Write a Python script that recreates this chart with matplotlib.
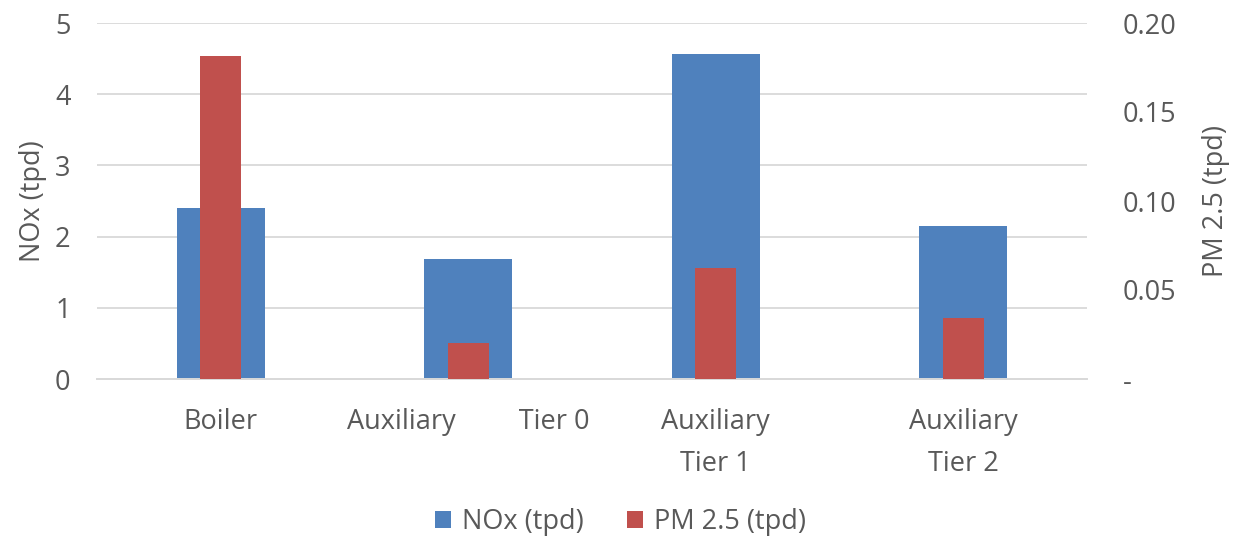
import matplotlib
matplotlib.use("Agg")
import matplotlib.pyplot as plt
import numpy as np
from matplotlib.ticker import FixedLocator

# emissions per engine type, tons per day
categories = ["Boiler", "Auxiliary         Tier 0", "Auxiliary\nTier 1", "Auxiliary\nTier 2"]
nox_tpd = [2.40, 1.69, 4.56, 2.15]
pm25_tpd = [0.1815, 0.0202, 0.0624, 0.0343]

BLUE = "#4F81BD"
RED = "#C0504D"
TEXT = "#595959"
GRID = "#D9D9D9"
FS = 19.5

plt.rcParams["font.family"] = ["Open Sans", "DejaVu Sans"]
plt.rcParams["font.size"] = FS

fig = plt.figure(figsize=(12.41, 5.41), dpi=100)
ax = fig.add_axes([97 / 1241, 1 - 379 / 541, 990 / 1241, 356 / 541])
ax2 = ax.twinx()

x = np.arange(len(categories))
ax.bar(x, nox_tpd, width=0.355, color=BLUE, zorder=2, label="NOx (tpd)")
ax2.bar(x, pm25_tpd, width=0.166, color=RED, zorder=3, label="PM 2.5 (tpd)")

ax.set_xlim(-0.5, len(categories) - 0.5)
ax.set_ylim(0, 5)
ax2.set_ylim(0, 0.20)
ax.set_yticks(range(6))
ax2.yaxis.set_major_locator(FixedLocator([0, 0.05, 0.10, 0.15, 0.20]))
ax2.set_yticklabels(["-", "0.05", "0.10", "0.15", "0.20"])

ax.grid(axis="y", color=GRID, linewidth=1.3, zorder=0)
ax.set_axisbelow(True)
for a in (ax, ax2):
    for side in ("top", "left", "right"):
        a.spines[side].set_visible(False)
    a.spines["bottom"].set_color(GRID)
    a.spines["bottom"].set_linewidth(1.3)
    a.tick_params(length=0, colors=TEXT, labelsize=FS)

ax.set_xticks(x)
ax.set_xticklabels(categories, linespacing=1.65)
ax.tick_params(axis="x", pad=21)
ax.tick_params(axis="y", pad=19)
ax2.tick_params(axis="y", pad=26)

ax.set_ylabel("NOx (tpd)", color=TEXT, fontsize=FS, labelpad=6)
ax2.set_ylabel("PM 2.5 (tpd)", color=TEXT, fontsize=FS, labelpad=18)

h1, l1 = ax.get_legend_handles_labels()
h2, l2 = ax2.get_legend_handles_labels()
fig.legend(h1 + h2, l1 + l2, loc="center", bbox_to_anchor=(0.5, 0.035), ncol=2,
           frameon=False, fontsize=FS, labelcolor=TEXT, handlelength=0.6,
           handleheight=0.6, handletextpad=0.4, columnspacing=1.6)

fig.savefig("out.png", dpi=100)
plt.close(fig)
